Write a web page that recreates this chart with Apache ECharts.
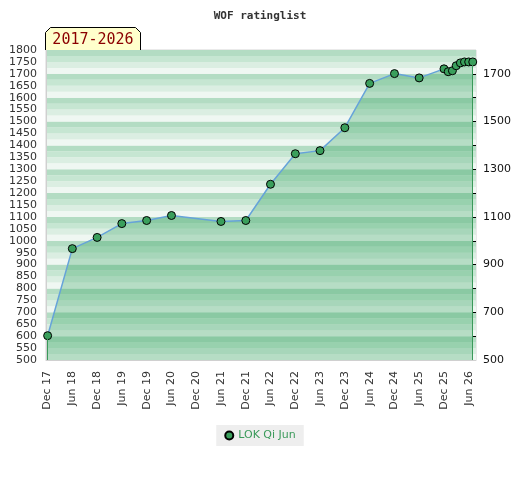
<!DOCTYPE html>
<html>
<head>
<meta charset="utf-8">
<script src="https://cdn.jsdelivr.net/npm/echarts@6/dist/echarts.min.js"></script>
<style>
  html, body { margin: 0; padding: 0; background: #fff; }
  #chart { width: 520px; height: 480px; }
</style>
</head>
<body>
<div id="chart"></div>
<script>
const titleText = 'WOF ratinglist';
const periodLabel = '2017-2026';
const playerName = 'LOK Qi Jun';

const ratingDates = [
  '2017-12-01', '2018-06-01', '2018-12-01', '2019-06-01', '2019-12-01',
  '2020-06-01', '2021-06-01', '2021-12-01', '2022-06-01', '2022-12-01',
  '2023-06-01', '2023-12-01', '2024-06-01', '2024-12-01', '2025-06-01',
  '2025-12-01', '2026-01-01', '2026-02-01', '2026-03-01', '2026-04-01',
  '2026-05-01', '2026-06-01', '2026-07-01'
];
const ratingValues = [
  602, 967, 1014, 1072, 1085,
  1106, 1081, 1085, 1237, 1365,
  1378, 1474, 1660, 1701, 1683,
  1721, 1709, 1713, 1734, 1746,
  1750, 1750, 1750
];

const tickDates = [
  '2017-12-01', '2018-06-01', '2018-12-01', '2019-06-01', '2019-12-01',
  '2020-06-01', '2020-12-01', '2021-06-01', '2021-12-01', '2022-06-01',
  '2022-12-01', '2023-06-01', '2023-12-01', '2024-06-01', '2024-12-01',
  '2025-06-01', '2025-12-01', '2026-06-01'
];
const rightLabelValues = [500, 700, 900, 1100, 1300, 1500, 1700];
const rightTickValues = [600, 700, 800, 900, 1000, 1100, 1200, 1300, 1400, 1500, 1600, 1700];

const xMin = '2017-11-19';
const xMax = '2026-07-25';
const yMin = 500;
const yMax = 1800;

const monthNames = ['Jan', 'Feb', 'Mar', 'Apr', 'May', 'Jun', 'Jul', 'Aug', 'Sep', 'Oct', 'Nov', 'Dec'];
function dateLabel(v) {
  const d = new Date(v);
  return monthNames[d.getUTCMonth()] + ' ' + String(d.getUTCFullYear()).slice(2);
}
const ts = s => Date.parse(s);
const plain = v => String(v);

const seriesData = ratingDates.map((d, i) => [ts(d), ratingValues[i]]);
const last = ratingDates.length - 1;

const chart = echarts.init(document.getElementById('chart'));
const font = 'DejaVu Sans';

const option = {
  animation: false,
  textStyle: { fontFamily: font },
  title: {
    text: titleText,
    left: 'center',
    top: 6,
    textStyle: { fontFamily: 'DejaVu Sans Mono', fontWeight: 'bold', fontSize: 11, color: '#333' }
  },
  grid: {
    left: 46, right: 44, top: 50, bottom: 120,
    show: true, borderColor: '#d4d4d4', borderWidth: 1, backgroundColor: 'transparent'
  },
  legend: {
    bottom: 34,
    left: 'center',
    backgroundColor: '#eeeeee',
    padding: [5, 8],
    itemWidth: 8,
    itemHeight: 8,
    textStyle: { color: '#3a9a5a', fontSize: 11, fontFamily: font },
    data: [{ name: playerName, icon: 'circle' }]
  },
  xAxis: {
    type: 'value',
    min: ts(xMin),
    max: ts(xMax),
    axisLine: { show: true, lineStyle: { color: '#d0d0d0' } },
    axisTick: { show: false },
    splitLine: { show: false },
    axisLabel: {
      customValues: tickDates.map(ts),
      rotate: 90,
      margin: 11,
      fontSize: 11,
      color: '#333',
      formatter: dateLabel
    }
  },
  yAxis: [
    {
      type: 'value',
      min: yMin, max: yMax, interval: 50,
      axisLine: { show: true, lineStyle: { color: '#d0d0d0' } },
      axisTick: { show: false },
      splitLine: { show: false },
      axisLabel: { fontSize: 11, color: '#333', margin: 9, formatter: plain }
    },
    {
      type: 'value',
      position: 'right',
      min: yMin, max: yMax, interval: 100,
      axisLine: { show: false },
      axisTick: { show: true, inside: true, length: 4, customValues: rightTickValues, lineStyle: { color: '#000' } },
      splitLine: { show: false },
      axisLabel: { customValues: rightLabelValues, fontSize: 11, color: '#111', margin: 7, formatter: plain }
    },
    {
      type: 'value',
      min: yMin, max: yMax, interval: 25,
      axisLine: { show: false },
      axisTick: { show: false },
      axisLabel: { show: false },
      splitLine: { show: false },
      splitArea: {
        show: true,
        areaStyle: { color: ['#eff7f2', '#dbeee2', '#c6e6d2', '#b3dcc3'] }
      }
    }
  ],
  series: [
    {
      name: playerName,
      type: 'line',
      yAxisIndex: 0,
      data: seriesData,
      symbol: 'circle',
      symbolSize: 8,
      showAllSymbol: true,
      lineStyle: { color: '#66a3d9', width: 1.5 },
      itemStyle: { color: '#3a9f5c', borderColor: '#000', borderWidth: 1 },
      areaStyle: { color: 'rgba(30,153,77,0.39)', origin: 'start' },
      markLine: {
        silent: true,
        symbol: ['none', 'none'],
        label: { show: false },
        lineStyle: { color: '#3a9a5a', width: 1, type: 'solid' },
        data: [
          [{ coord: [seriesData[0][0], ratingValues[0]] }, { coord: [seriesData[0][0], yMin] }],
          [{ coord: [seriesData[last][0], ratingValues[last]] }, { coord: [seriesData[last][0], yMin] }]
        ]
      }
    }
  ],
  graphic: [
    {
      type: 'polygon',
      z: 100,
      shape: { points: [[45.5, 50], [45.5, 32.5], [50.5, 27.5], [135.5, 27.5], [140.5, 32.5], [140.5, 50]] },
      style: { fill: '#ffffcc', stroke: null }
    },
    {
      type: 'polyline',
      z: 101,
      shape: { points: [[45.5, 50], [45.5, 32.5], [50.5, 27.5], [135.5, 27.5], [140.5, 32.5], [140.5, 50]] },
      style: { stroke: '#000', lineWidth: 1, fill: null }
    },
    {
      type: 'text',
      z: 102,
      x: 93,
      y: 40,
      style: {
        text: periodLabel,
        fill: '#8b0000',
        font: '15px "DejaVu Sans Mono"',
        align: 'center',
        verticalAlign: 'middle'
      }
    }
  ]
};

chart.setOption(option);
</script>
</body>
</html>
